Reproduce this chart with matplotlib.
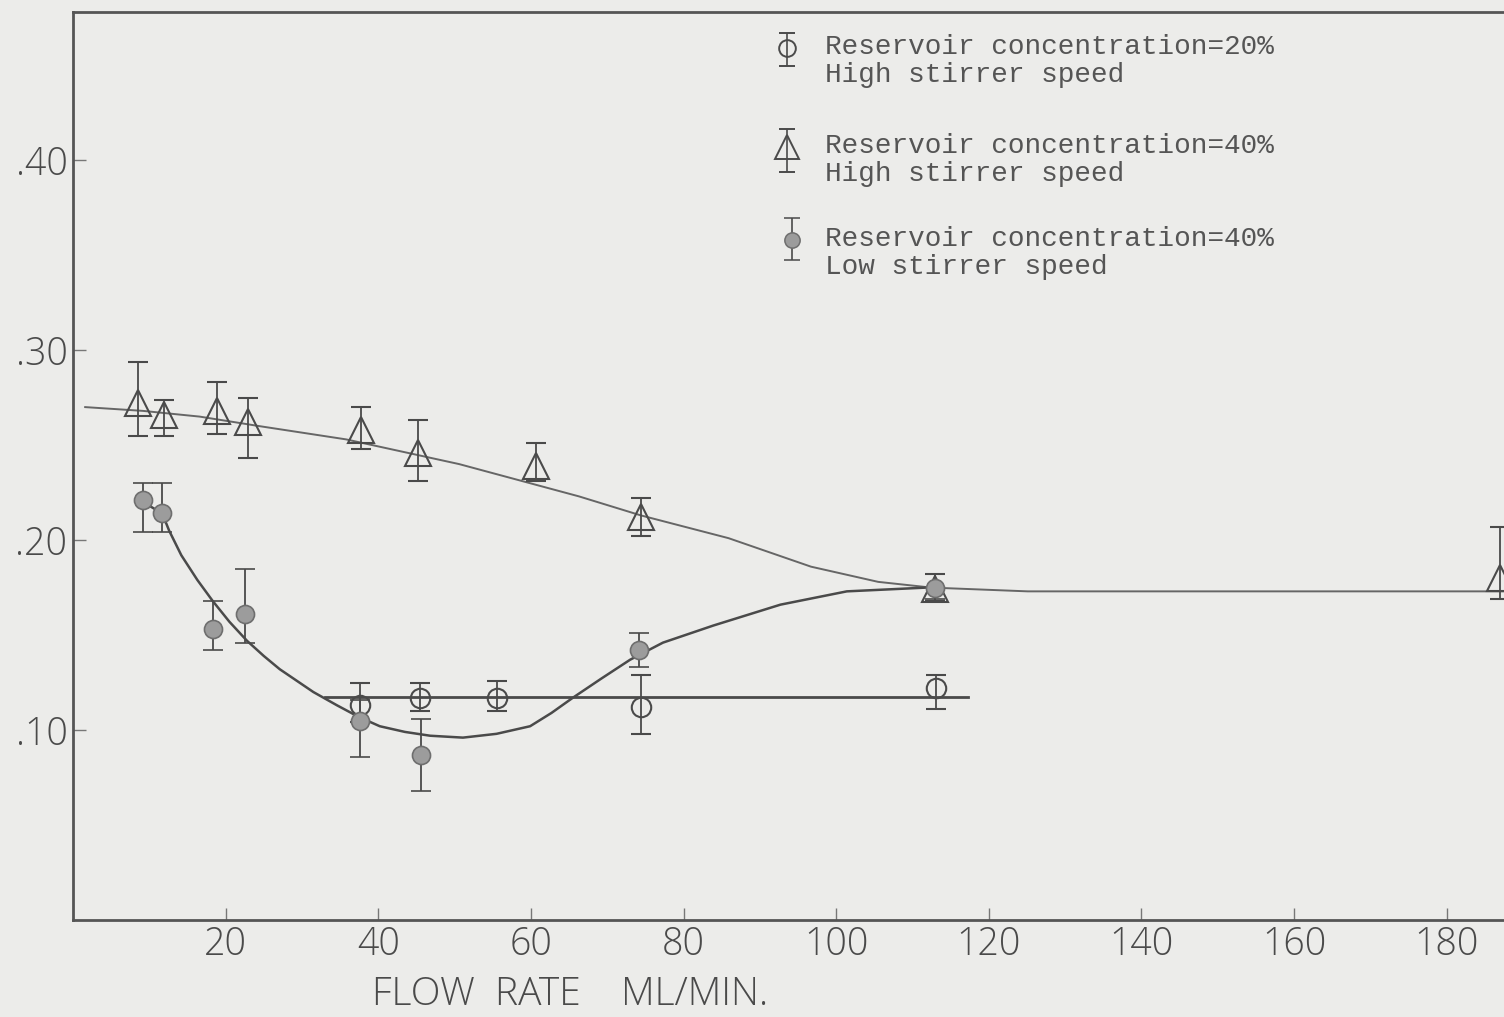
"""Solute concentration vs flow rate, three reservoir / stirrer conditions."""
import matplotlib
matplotlib.use("Agg")
import matplotlib.pyplot as plt

# --- data -------------------------------------------------------------
# Reservoir 40 %, high stirrer speed (open triangles)
tri_x = [8.5, 11.9, 18.9, 22.9, 37.7, 45.2, 60.7, 74.4, 112.9, 187.0]
tri_y = [0.272, 0.266, 0.268, 0.262, 0.258, 0.246, 0.239, 0.212, 0.174, 0.180]
tri_top = [0.294, 0.274, 0.283, 0.275, 0.270, 0.263, 0.251, 0.222, 0.182, 0.207]
tri_bot = [0.255, 0.255, 0.256, 0.243, 0.248, 0.231, 0.231, 0.202, 0.168, 0.169]

# Reservoir 40 %, low stirrer speed (filled circles)
low_x = [9.2, 11.7, 18.3, 22.5, 37.6, 45.6, 74.2, 112.9]
low_y = [0.221, 0.214, 0.153, 0.161, 0.105, 0.087, 0.142, 0.175]
low_top = [0.230, 0.230, 0.168, 0.185, 0.116, 0.106, 0.151, 0.182]
low_bot = [0.204, 0.204, 0.142, 0.146, 0.086, 0.068, 0.133, 0.169]

# Reservoir 20 %, high stirrer speed (open circles)
c20_x = [37.6, 45.5, 55.6, 74.4, 113.1]
c20_y = [0.113, 0.117, 0.117, 0.112, 0.122]
c20_top = [0.125, 0.125, 0.126, 0.129, 0.129]
c20_bot = [0.104, 0.110, 0.110, 0.098, 0.111]

# hand-drawn fitted curves
tri_fit_x = [1.6, 9.2, 16.6, 24.4, 35.8, 50.6, 66.3, 74.4, 85.9, 96.7,
             105.5, 112.4, 125.1, 187.5]
tri_fit_y = [0.270, 0.268, 0.265, 0.260, 0.253, 0.240, 0.223, 0.213, 0.201,
             0.186, 0.178, 0.175, 0.173, 0.173]
low_fit_x = [9.2, 11.7, 12.6, 14.2, 16.3, 18.3, 20.5, 22.8, 25.0, 27.1, 29.3,
             31.5, 34.6, 37.4, 40.2, 43.5, 46.8, 51.1, 55.5, 59.9, 62.7, 65.5,
             69.2, 73.0, 77.3, 83.9, 92.7, 101.4, 111.9]
low_fit_y = [0.220, 0.214, 0.205, 0.192, 0.179, 0.168, 0.157, 0.147, 0.139,
             0.132, 0.126, 0.120, 0.113, 0.107, 0.102, 0.099, 0.097, 0.096,
             0.098, 0.102, 0.109, 0.117, 0.127, 0.137, 0.146, 0.155, 0.166,
             0.173, 0.175]
c20_fit_x = [33.0, 117.3]
c20_fit_y = [0.1175, 0.1175]

x_ticks = [20, 40, 60, 80, 100, 120, 140, 160, 180]
y_ticks = [0.10, 0.20, 0.30, 0.40]
y_tick_labels = [".10", ".20", ".30", ".40"]

legend_labels = [
    "Reservoir concentration=20%\nHigh stirrer speed",
    "Reservoir concentration=40%\nHigh stirrer speed",
    "Reservoir concentration=40%\nLow stirrer speed",
]

# --- style ---------------------------------------------------------------
paper = "#ececea"
ink = "#4a4a4a"
plt.rcParams["font.family"] = ["Open Sans", "DejaVu Sans"]

fig = plt.figure(figsize=(15.04, 10.17), dpi=100, facecolor=paper)
ax = fig.add_axes([0.0485, 0.0954, 0.9515, 0.8928], facecolor=paper)

# fitted curves
ax.plot(tri_fit_x, tri_fit_y, color="#666666", lw=1.4, zorder=2)
ax.plot(low_fit_x, low_fit_y, color=ink, lw=1.8, zorder=2)
ax.plot(c20_fit_x, c20_fit_y, color=ink, lw=2.0, zorder=2)


def err(y, top, bot):
    return [[a - b for a, b in zip(y, bot)], [t - a for a, t in zip(y, top)]]


eb_kw = dict(ls="none", ecolor=ink, elinewidth=1.3, capsize=7, capthick=1.6,
             zorder=3)
ax.errorbar(tri_x, tri_y, yerr=err(tri_y, tri_top, tri_bot), marker="^",
            ms=19, mfc="none", mec=ink, mew=1.5, **eb_kw)
ax.errorbar(c20_x, c20_y, yerr=err(c20_y, c20_top, c20_bot), marker="o",
            ms=14, mfc="none", mec=ink, mew=1.5, **eb_kw)
ax.errorbar(low_x, low_y, yerr=err(low_y, low_top, low_bot), marker="o",
            ms=13, mfc="#9c9c9c", mec="#6e6e6e", mew=1.2, **eb_kw)

ax.set_xlim(0, 187.5)
ax.set_ylim(0, 0.478)
ax.set_xticks(x_ticks)
ax.set_yticks(y_ticks)
ax.set_yticklabels(y_tick_labels)
ax.tick_params(direction="in", length=9, width=1, color="#777777",
               labelsize=27, labelcolor="#4a4a4a", pad=4)
for lab in ax.get_xticklabels() + ax.get_yticklabels():
    lab.set_fontweight("light")
for side in ("left", "bottom", "top"):
    ax.spines[side].set_color("#555555")
    ax.spines[side].set_linewidth(2)
ax.spines["right"].set_visible(False)

fig.text(372 / 1504, 0.003, "FLOW  RATE    ML/MIN.", fontsize=28,
         fontweight="light", color="#4a4a4a", ha="left", va="bottom")

# --- legend, typed in the upper middle --------------------------------------
lax = fig.add_axes([0, 0, 1, 1])
lax.set_xlim(0, 1504)
lax.set_ylim(1017, 0)
lax.axis("off")
key_styles = [
    dict(marker="o", ms=12, mfc="none", mec=ink, mew=1.4),
    dict(marker="^", ms=17, mfc="none", mec=ink, mew=1.4),
    dict(marker="o", ms=11, mfc="#9c9c9c", mec="#6e6e6e", mew=1.1),
]
key_pos = [(787, 48, 18, 15), (787, 147, 25, 18), (792, 240, 20, 22)]
for label, style, (kx, ky, up, down) in zip(legend_labels, key_styles, key_pos):
    lax.errorbar([kx], [ky], yerr=[[down], [up]], ls="none", ecolor=ink,
                 elinewidth=1.2, capsize=6, capthick=1.5, **style)
    lax.text(825, ky - 14, label, family="Liberation Mono", fontsize=20,
             color="#555555", va="top", ha="left", linespacing=1.12)

fig.savefig("out.png", dpi=100, facecolor=paper)
